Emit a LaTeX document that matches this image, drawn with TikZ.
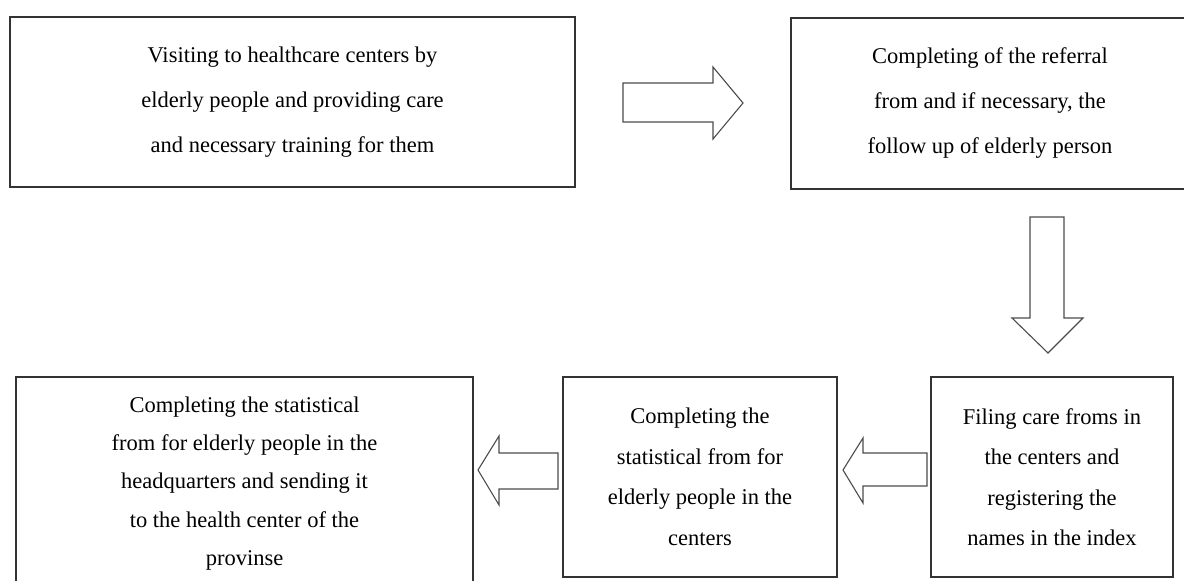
\documentclass[tikz,border=0pt]{standalone}
\usepackage{fontspec}
\setmainfont{Liberation Serif}
\usetikzlibrary{shadows}
\begin{document}
\begin{tikzpicture}[x=1pt,y=-1pt,
  box/.style={draw=black!80, line width=1.3pt, fill=white, inner sep=0pt, align=center,
    drop shadow={shadow xshift=1.3pt, shadow yshift=-1.3pt, fill=black!40, opacity=1}},
  txtA/.style={font=\fontsize{22.5}{45}\selectfont},
  txtB/.style={font=\fontsize{22.5}{40.5}\selectfont},
  txtC/.style={font=\fontsize{22.5}{38.3}\selectfont},
  blockarrow/.style={draw=black!70, line width=1.1pt, fill=white, line join=miter}]
\useasboundingbox (0,0) rectangle (1184,581);
\clip (0,0) rectangle (1184,581);
\fill[white] (0,0) rectangle (1184,581);

\node[box, txtA, minimum width=565pt, minimum height=170pt] (b1) at (292.5,102)
  {Visiting to healthcare centers by\\elderly people and providing care\\and necessary training for them};
\node[box, txtA, minimum width=398pt, minimum height=171pt] (b2) at (990,103.5)
  {Completing of the referral\\from and if necessary, the\\follow up of elderly person};
\node[box, txtB, minimum width=242pt, minimum height=200pt] (b3) at (1052,477)
  {Filing care froms in\\the centers and\\registering the\\names in the index};
\node[box, txtB, minimum width=274pt, minimum height=200pt] (b4) at (700,477)
  {Completing the\\statistical from for\\elderly people in the\\centers};
\node[box, txtC, minimum width=457pt, minimum height=213pt] (b5) at (244.5,483.5)
  {Completing the statistical\\from for elderly people in the\\headquarters and sending it\\to the health center of the\\provinse};

% right arrow b1 -> b2
\draw[blockarrow] (623,83) -- (713,83) -- (713,67) -- (743,103) -- (713,139) -- (713,122) -- (623,122) -- cycle;
% down arrow b2 -> b3
\draw[blockarrow] (1030,217) -- (1064,217) -- (1064,318) -- (1083,318) -- (1048,353) -- (1012,318) -- (1030,318) -- cycle;
% left arrow b3 -> b4
\draw[blockarrow] (927,453) -- (863,453) -- (863,438) -- (843,470) -- (863,503) -- (863,486) -- (927,486) -- cycle;
% left arrow b4 -> b5
\draw[blockarrow] (558,453) -- (499,453) -- (499,436) -- (478,470) -- (499,505) -- (499,489) -- (558,489) -- cycle;
\end{tikzpicture}
\end{document}
